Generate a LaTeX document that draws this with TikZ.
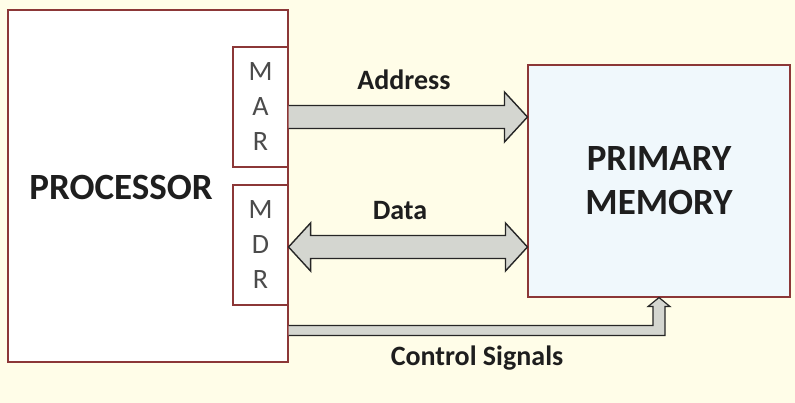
\documentclass[tikz,border=0pt]{standalone}
\usepackage{fontspec}
\setmainfont{Carlito}
\usetikzlibrary{calc,positioning}
\definecolor{paper}{RGB}{255,253,232}
\definecolor{boxred}{RGB}{140,55,55}
\definecolor{busgray}{RGB}{212,214,208}
\definecolor{memfill}{RGB}{240,248,252}
\definecolor{ink}{RGB}{30,30,30}
\tikzset{
  unitbox/.style={draw=boxred, line width=1.1pt, inner sep=0pt},
  regbox/.style={unitbox, fill=white, minimum width=55pt, minimum height=120pt,
    align=center, font=\fontsize{28}{35}\selectfont, text=ink!80},
  bus/.style={fill=busgray, draw=black!85, line width=1.4pt, line join=miter},
  lbl/.style={font=\fontsize{28}{32}\selectfont\bfseries, text=ink},
}
\begin{document}
\begin{tikzpicture}[x=1pt, y=-1pt]
			%%%%% FRAME %%%%%
			\useasboundingbox[fill=paper] (0, 0) rectangle (795, 403);
			
			\node[unitbox, fill=white, minimum width=280pt, minimum height=352pt] (proc) at (148, 186) {};
			\node[lbl, font=\fontsize{37}{42}\selectfont\bfseries] (proclabel) at (121, 187) {PROCESSOR};
			
			\node[regbox] (mar) at (260.5, 107) {M\\A\\R};
			\node[regbox] (mdr) at (260.5, 245) {M\\D\\R};
			
			\node[unitbox, fill=memfill, minimum width=262pt, minimum height=232pt,
			  align=center, font=\fontsize{37}{44}\selectfont\bfseries, text=ink] (mem) at (659, 181) {PRIMARY\\MEMORY};
			
			%%%%% BUSES %%%%%
			\coordinate (addr) at ($(mar.east)+(0, 10)$);
			\coordinate (dat) at ($(mdr.east)+(0, 2)$);
			\coordinate (ctl) at ($(mdr.south east)+(0, 25)$);
			
			% address bus
			\filldraw[bus] ($(addr)+(0, -11.5)$) -- ($(mem.west |- addr)+(-23, -11.5)$)
			  -- ($(mem.west |- addr)+(-23, -25)$) -- (mem.west |- addr)
			  -- ($(mem.west |- addr)+(-23, 25)$) -- ($(mem.west |- addr)+(-23, 11.5)$)
			  -- ($(addr)+(0, 11.5)$);
			\node[lbl] (addrlabel) at (404, 80) {Address};
			
			% data bus
			\filldraw[bus] (dat) -- ($(dat)+(22, -24)$) -- ($(dat)+(22, -11.5)$)
			  -- ($(mem.west |- dat)+(-22, -11.5)$) -- ($(mem.west |- dat)+(-22, -24)$)
			  -- (mem.west |- dat) -- ($(mem.west |- dat)+(-22, 24)$)
			  -- ($(mem.west |- dat)+(-22, 11.5)$) -- ($(dat)+(22, 11.5)$)
			  -- ($(dat)+(22, 24)$) -- cycle;
			\node[lbl] (datlabel) at (400, 211) {Data};
			
			% control bus
			\filldraw[bus, line width=1.2pt] ($(ctl)+(0, -5)$) -- ($(mem.south |- ctl)+(-6, -5)$)
			  -- ($(mem.south)+(-6, 9)$) -- ($(mem.south)+(-11, 9)$) -- (mem.south)
			  -- ($(mem.south)+(11, 9)$) -- ($(mem.south)+(6, 9)$)
			  -- ($(mem.south |- ctl)+(6, 5)$) -- ($(ctl)+(0, 5)$);
			\node[lbl] (ctllabel) at (477, 358) {Control Signals};
			
			%%%%% END %%%%%
		\end{tikzpicture}
\end{document}
